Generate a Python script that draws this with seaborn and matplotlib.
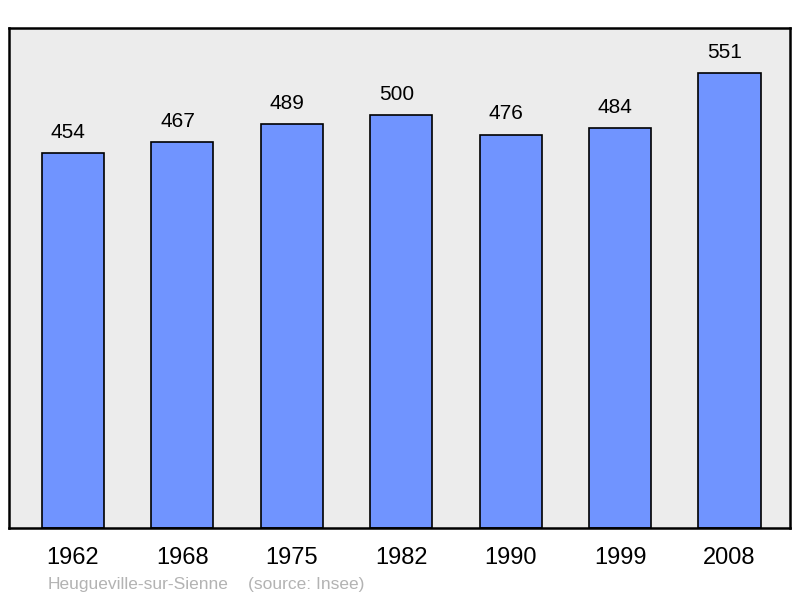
import matplotlib
matplotlib.use("Agg")
import matplotlib.pyplot as plt
import seaborn as sns
import pandas as pd

years = ["1962", "1968", "1975", "1982", "1990", "1999", "2008"]
population = [454, 467, 489, 500, 476, 484, 551]
commune = "Heugueville-sur-Sienne"
source = "(source: Insee)"

sns.set_theme(style="white")
plt.rcParams['font.family'] = ['Liberation Sans', 'DejaVu Sans']

df = pd.DataFrame({"year": years, "pop": population})

fig = plt.figure(figsize=(8.0, 5.98), dpi=100)
ax = fig.add_axes([0.01125, 0.117, 0.97625, 0.836])
ax.set_facecolor("#ececec")

sns.barplot(data=df, x="year", y="pop", ax=ax, color="#7094ff", saturation=1,
            width=0.567, edgecolor="black", linewidth=1.2, errorbar=None)

for i, v in enumerate(population):
    ax.text(i - 0.045, v + 14, str(v), ha="center", va="bottom", fontsize=15, color="black")

ax.set_xlim(-0.585, 6.553)
ax.set_ylim(0, 605.5)
ax.set_yticks([])
ax.set_xlabel("")
ax.set_ylabel("")
ax.tick_params(axis="x", length=0, pad=13.5, labelsize=17, colors="black")
for s in ax.spines.values():
    s.set_visible(True)
    s.set_color("black")
    s.set_linewidth(1.8)

fig.text(48 / 800, 1 - 585 / 598, commune, fontsize=12.5, color="#b3b3b3", ha="left", va="center")
fig.text(248 / 800, 1 - 585 / 598, source, fontsize=12.5, color="#b3b3b3", ha="left", va="center")

fig.savefig("out.png", dpi=100, facecolor="white")
